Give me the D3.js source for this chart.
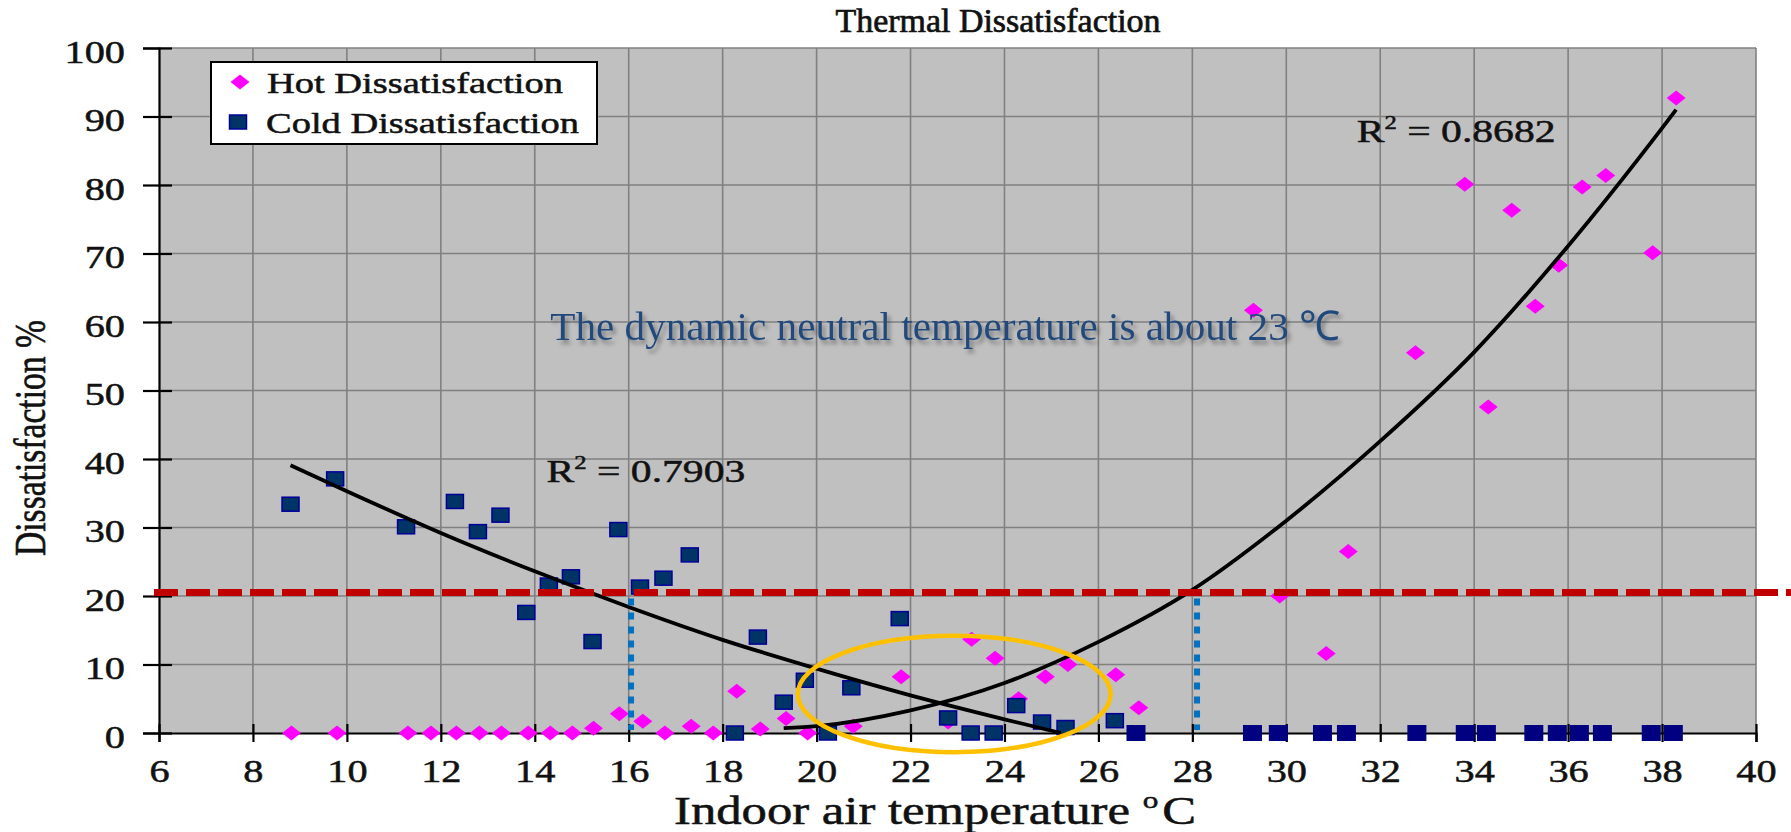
<!DOCTYPE html>
<html>
<head>
<meta charset="utf-8">
<script src="https://cdn.jsdelivr.net/npm/d3@7"></script>
<style>
  body { margin: 0; background: #fff; }
  svg { display: block; }
  text { font-family: "Liberation Serif", "Times New Roman", serif; fill: #111;
         stroke: #111; stroke-width: 0.5px; }
</style>
</head>
<body>
<script>
// ---- tick values ----
const xTicks = [6, 8, 10, 12, 14, 16, 18, 20, 22, 24, 26, 28, 30, 32, 34, 36, 38, 40];
const yTicks = [0, 10, 20, 30, 40, 50, 60, 70, 80, 90, 100];

// ---- hot dissatisfaction (%) by indoor air temperature (°C) ----
const hotTemp = [8.82, 9.79, 11.3, 11.79, 12.33, 12.82, 13.29, 13.86, 14.33, 14.8,
  15.25, 15.8, 16.3, 16.77, 17.33, 17.8, 18.3, 18.8, 19.35, 19.81, 20.78, 21.8,
  22.8, 23.3, 23.8, 24.3, 24.87, 25.35, 26.37, 26.86, 29.3, 29.86, 30.85, 31.32,
  32.75, 33.8, 34.3, 34.8, 35.3, 35.8, 36.3, 36.8, 37.8, 38.3];
const hotPct = [0, 0, 0, 0, 0, 0, 0, 0, 0, 0,
  0.7, 2.8, 1.7, 0, 1.0, 0, 6.1, 0.6, 2.1, 0, 1.0, 8.2,
  1.6, 13.7, 10.9, 5.0, 8.2, 10.0, 8.5, 3.7, 61.7, 20.0, 11.6, 26.5,
  55.5, 80.1, 47.6, 76.3, 62.3, 68.3, 79.7, 81.4, 70.1, 92.7];

// ---- cold dissatisfaction (%) ----
const coldTemp = [8.8, 9.75, 11.26, 12.3, 12.79, 13.27, 13.82, 14.3, 14.77, 15.23,
  15.78, 16.24, 16.74, 17.3, 18.26, 18.75, 19.3, 19.75, 20.24, 20.74, 21.77,
  22.8, 23.28, 23.77, 24.25, 24.8, 25.3, 26.35];
const coldPct = [33.4, 37.1, 30.1, 33.8, 29.4, 31.8, 17.6, 21.6, 22.8, 13.35,
  29.7, 21.3, 22.6, 26.0, 0, 14.0, 4.5, 7.7, 0, 6.6, 16.7,
  2.2, 0, 0, 4.0, 1.6, 0.8, 1.8];
// warm-side readings where nobody reported cold discomfort
const coldZeroTemp = [26.8, 29.28, 29.83, 30.77, 31.28, 32.78, 33.81, 34.26,
  35.27, 35.77, 36.24, 36.73, 37.77, 38.24];
const coldZeroPct = [0, 0, 0, 0, 0, 0, 0, 0, 0, 0, 0, 0, 0, 0];

// ---- fitted trend curves ----
const coldTrendTemp = [8.8, 10, 12, 14, 16, 18, 20, 22, 24, 25.2];
const coldTrendPct  = [39.1, 35.3, 29.2, 23.6, 18.4, 13.6, 9.4, 5.5, 2.0, 0];
const hotTrendTemp = [19.3, 20, 22, 24, 26, 28, 30, 32, 34, 36, 38, 38.3];
const hotTrendPct  = [0.7, 1.0, 3.3, 7.3, 13.3, 20.9, 31.0, 42.6, 55.6, 71.1, 88.3, 91.0];
const r2Labels = ["0.7903", "0.8682"];

// ---- acceptability limit and the temperatures where the curves cross it ----
const limitPct = 20.5;
const limitTemps = [16.05, 28.1];
const neutralNote = "The dynamic neutral temperature is about 23 ℃";

// ---- layout ----
const W = 1791, H = 832;
const SX = 1.3; // horizontal glyph stretch

const x = d3.scaleLinear().domain([6, 40]).range([159, 1756]);
const y = d3.scaleLinear().domain([0, 100]).range([733, 48]);

const svg = d3.select("body").append("svg").attr("width", W).attr("height", H);

const defs = svg.append("defs");
const shadow = defs.append("filter").attr("id", "soft-shadow")
  .attr("x", "-5%").attr("y", "-30%").attr("width", "110%").attr("height", "160%");
shadow.append("feDropShadow").attr("dx", 3).attr("dy", 4).attr("stdDeviation", 2)
  .attr("flood-color", "#000").attr("flood-opacity", 0.35);

// plot background
svg.append("rect")
  .attr("x", x(6)).attr("y", y(100))
  .attr("width", x(40) - x(6)).attr("height", y(0) - y(100))
  .attr("fill", "#c0c0c0");

// grid
const grid = svg.append("g").attr("stroke", "#808080").attr("stroke-width", 1.6);
grid.selectAll(".vg").data(xTicks.filter(d => d > 6)).join("line")
  .attr("x1", d => x(d)).attr("x2", d => x(d))
  .attr("y1", y(100)).attr("y2", y(0));
grid.selectAll(".hg").data(yTicks.filter(d => d > 0)).join("line")
  .attr("x1", x(6)).attr("x2", x(40))
  .attr("y1", d => y(d)).attr("y2", d => y(d));

// axes
const yAxis = svg.append("g").attr("transform", `translate(${x(6)},0)`)
  .call(d3.axisLeft(y).tickValues(yTicks).tickSizeOuter(0).tickSize(16));
yAxis.selectAll(".tick line").attr("x1", 13);
yAxis.selectAll(".tick text")
  .attr("x", null).attr("dy", null)
  .attr("transform", `translate(-34,14) scale(${SX},1)`)
  .attr("text-anchor", "end");

const xAxis = svg.append("g").attr("transform", `translate(0,${y(0)})`)
  .call(d3.axisBottom(x).tickValues(xTicks).tickSizeOuter(0).tickSize(9));
xAxis.selectAll(".tick line").attr("y1", -9);
xAxis.selectAll(".tick text")
  .attr("y", null).attr("dy", null)
  .attr("transform", `translate(0,49) scale(${SX},1)`)
  .attr("text-anchor", "middle");

[yAxis, xAxis].forEach(a => {
  a.selectAll("path.domain").attr("stroke", "#000").attr("stroke-width", 2.2);
  a.selectAll(".tick line").attr("stroke", "#000").attr("stroke-width", 2.2);
  a.selectAll(".tick text").style("font-size", "31px")
    .style("font-family", '"Liberation Serif", serif').attr("fill", "#111");
});

// markers
const hotPts = hotTemp.map((t, i) => [t, hotPct[i]]);
const coldPts = coldTemp.map((t, i) => [t, coldPct[i]]);
const coldZeroPts = coldZeroTemp.map((t, i) => [t, coldZeroPct[i]]);

const DW = 9.5, DH = 7.5; // diamond half sizes
const diamond = (cx, cy) => `M${cx},${cy - DH}L${cx + DW},${cy}L${cx},${cy + DH}L${cx - DW},${cy}Z`;

svg.append("g").selectAll("path").data(hotPts).join("path")
  .attr("d", d => diamond(x(d[0]), y(d[1])))
  .attr("fill", "#ff00ff");

const SQW = 17, SQH = 14;
svg.append("g").selectAll("rect").data(coldPts).join("rect")
  .attr("x", d => x(d[0]) - SQW / 2).attr("y", d => y(d[1]) - SQH / 2)
  .attr("width", SQW).attr("height", SQH)
  .attr("fill", "#003366").attr("stroke", "#000099").attr("stroke-width", 1.5);
svg.append("g").selectAll("rect").data(coldZeroPts).join("rect")
  .attr("x", d => x(d[0]) - SQW / 2 - 1).attr("y", d => y(d[1]) - SQH / 2 - 1)
  .attr("width", SQW + 2).attr("height", SQH + 2)
  .attr("fill", "#000080");

// trend curves
const line = d3.line().x(d => x(d[0])).y(d => y(d[1])).curve(d3.curveMonotoneX);
svg.append("path").datum(coldTrendTemp.map((t, i) => [t, coldTrendPct[i]]))
  .attr("d", line).attr("fill", "none").attr("stroke", "#000").attr("stroke-width", 3.8);
svg.append("path").datum(hotTrendTemp.map((t, i) => [t, hotTrendPct[i]]))
  .attr("d", line).attr("fill", "none").attr("stroke", "#000").attr("stroke-width", 3.8);

// limit guides
svg.append("g").selectAll("line").data(limitTemps).join("line")
  .attr("x1", d => x(d)).attr("x2", d => x(d))
  .attr("y1", y(limitPct) + 6).attr("y2", y(0) - 3)
  .attr("stroke", "#0070c0").attr("stroke-width", 6).attr("stroke-dasharray", "7,7");
svg.append("line")
  .attr("x1", x(6) - 5).attr("x2", W)
  .attr("y1", y(limitPct)).attr("y2", y(limitPct))
  .attr("stroke", "#c00000").attr("stroke-width", 7).attr("stroke-dasharray", "24,8");

// neutral zone ring
const zone = { t: 22.93, p: 5.7, dt: 3.33, dp: 8.5 };
svg.append("ellipse")
  .attr("cx", x(zone.t)).attr("cy", y(zone.p))
  .attr("rx", x(zone.t + zone.dt) - x(zone.t)).attr("ry", y(0) - y(zone.dp))
  .attr("fill", "none").attr("stroke", "#ffc000").attr("stroke-width", 4.5);

// R² labels
function r2Label(px, py, value) {
  const t = svg.append("text")
    .attr("transform", `translate(${px},${py}) scale(${SX},1)`)
    .style("font-size", "32px");
  t.append("tspan").text("R");
  t.append("tspan").attr("dy", -13).style("font-size", "19px").text("2");
  t.append("tspan").attr("dy", 13).text(" = " + value);
}
r2Label(x(14.25), y(36.6), r2Labels[0]);
r2Label(x(31.5), y(86.3), r2Labels[1]);

// annotation
svg.append("text")
  .attr("x", x(14.33)).attr("y", y(57.4))
  .attr("textLength", 790).attr("lengthAdjust", "spacingAndGlyphs")
  .style("font-size", "41px").style("fill", "#244a7c").style("stroke", "none")
  .attr("filter", "url(#soft-shadow)")
  .text(neutralNote);

// legend
const lg = svg.append("g");
lg.append("rect").attr("x", 211).attr("y", 62).attr("width", 386).attr("height", 82)
  .attr("fill", "#fff").attr("stroke", "#000").attr("stroke-width", 2);
lg.append("path").attr("d", diamond(240, 82)).attr("fill", "#ff00ff");
lg.append("rect").attr("x", 238 - SQW / 2).attr("y", 122 - SQH / 2)
  .attr("width", SQW).attr("height", SQH)
  .attr("fill", "#003366").attr("stroke", "#000099").attr("stroke-width", 1.5);
lg.append("text").attr("x", 267).attr("y", 93)
  .attr("textLength", 296).attr("lengthAdjust", "spacingAndGlyphs")
  .style("font-size", "29px").text("Hot Dissatisfaction");
lg.append("text").attr("x", 266).attr("y", 133)
  .attr("textLength", 313).attr("lengthAdjust", "spacingAndGlyphs")
  .style("font-size", "29px").text("Cold Dissatisfaction");

// titles
svg.append("text").attr("x", 998).attr("y", 32)
  .attr("text-anchor", "middle")
  .attr("textLength", 325).attr("lengthAdjust", "spacingAndGlyphs")
  .style("font-size", "33px").style("stroke-width", "0.7px")
  .text("Thermal Dissatisfaction");

const xt = svg.append("text")
  .attr("transform", `translate(674,824) scale(${SX},1)`)
  .style("font-size", "39px");
xt.append("tspan").text("Indoor air temperature ");
xt.append("tspan").attr("dy", -16).style("font-size", "24px").text("o");
xt.append("tspan").attr("dy", 16).attr("dx", 3).text("C");

svg.append("text")
  .attr("transform", `translate(45,438) scale(${SX},1) rotate(-90)`)
  .attr("text-anchor", "middle")
  .attr("textLength", 236).attr("lengthAdjust", "spacingAndGlyphs")
  .style("font-size", "34px").text("Dissatisfaction %");
</script>
</body>
</html>
